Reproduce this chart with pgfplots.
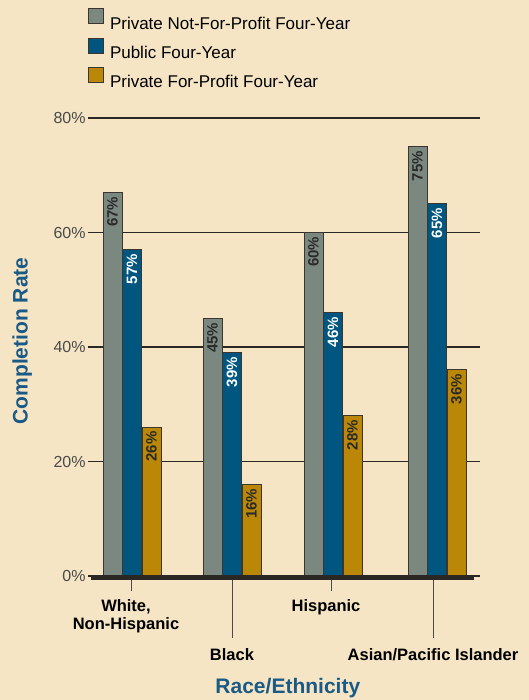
\documentclass[border=0pt]{standalone}
\usepackage{fontspec}
\setmainfont{Liberation Sans}
\usepackage{pgfplots}
\pgfplotsset{compat=1.18}
\definecolor{bg}{HTML}{F5E5C4}
\definecolor{greyc}{HTML}{7B8880}
\definecolor{bluec}{HTML}{00567F}
\definecolor{goldc}{HTML}{BA8806}
\definecolor{edgec}{HTML}{3A3632}
\definecolor{gridc}{HTML}{2B2724}
\definecolor{tickc}{HTML}{4A4A4A}
\definecolor{titlec}{HTML}{1A5A86}
\definecolor{labdark}{HTML}{2A2A2A}
\pgfplotsset{sqlegend/.style={legend image code/.code={\draw[##1] (0pt,0pt) rectangle (15pt,15pt);}}}
\begin{document}
\begin{tikzpicture}[x=1pt,y=1pt]
\fill[bg] (0,0) rectangle (529,700);
\useasboundingbox (0,0) rectangle (529,700);
\begin{axis}[
  at={(91pt,124pt)}, anchor=south west,
  scale only axis, width=389pt, height=458pt,
  xmin=91, xmax=480, ymin=0, ymax=80,
  clip=false,
  axis line style={draw=none},
  ybar=0.5pt, bar width=19,
  /pgf/number format/assume math mode=true,
  ymajorgrids, grid style={line width=1.2pt, color=gridc},
  ytick={0,20,40,60,80},
  yticklabel={\pgfmathprintnumber{\tick}\%},
  yticklabel style={font=\fontsize{16}{18}\selectfont, text=tickc, inner xsep=1pt},
  ytick style={draw=gridc, line width=1.2pt, /pgfplots/major tick length=3pt},
  tick align=outside,
  xtick pos=bottom, ytick pos=left,
  xtick={131,331},
  xticklabels={{White,\\Non-Hispanic},{Hispanic}},
  xticklabel style={font=\bfseries\fontsize{16.5}{18}\selectfont, align=center, text=black, yshift=-16pt, xshift=-5pt},
  xtick style={draw=tickc, line width=0.9pt, /pgfplots/major tick length=15pt},
  extra x ticks={232,433},
  extra x tick labels={Black,{Asian/Pacific Islander}},
  extra x tick style={major tick length=62pt, xtick pos=bottom, xticklabel style={yshift=9pt, xshift=5pt}, xtick style={draw=tickc, line width=0.9pt, /pgfplots/major tick length=62pt}},
  xlabel={Race/Ethnicity},
  xlabel style={at={(axis description cs:0.506,-0.2445)}, anchor=center, font=\bfseries\fontsize{21}{24}\selectfont, text=titlec},
  ylabel={Completion Rate},
  ylabel style={at={(axis description cs:-0.177,0.513)}, anchor=center, font=\bfseries\fontsize{21}{24}\selectfont, text=titlec},
  nodes near coords={\pgfmathprintnumber{\pgfplotspointmeta}\%},
  every node near coord/.append style={rotate=90, anchor=east, font=\bfseries\fontsize{15}{15}\selectfont, inner xsep=4pt, inner ysep=0pt},
  legend style={at={(axis description cs:-0.0077,1.24)}, anchor=north west, draw=none, fill=none, font=\fontsize{17}{20}\selectfont, row sep=5pt, column sep=4pt, inner sep=0pt},
  legend cell align=left,
]
\addplot[fill=greyc, draw=edgec, line width=0.8pt, sqlegend,
  every node near coord/.append style={text=labdark}]
  coordinates {(132,67) (232,45) (333,60) (437,75)};
\addplot[fill=bluec, draw=edgec, line width=0.8pt, sqlegend,
  every node near coord/.append style={text=white}]
  coordinates {(132,57) (232,39) (333,46) (437,65)};
\addplot[fill=goldc, draw=edgec, line width=0.8pt, sqlegend,
  every node near coord/.append style={text=labdark}]
  coordinates {(132,26) (232,16) (333,28) (437,36)};
\legend{Private Not-For-Profit Four-Year, Public Four-Year, Private For-Profit Four-Year}
\draw[line width=4.5pt, gridc, yshift=-1.5pt] (axis cs:91,0) -- (axis cs:474,0);
\end{axis}
\end{tikzpicture}
\end{document}
